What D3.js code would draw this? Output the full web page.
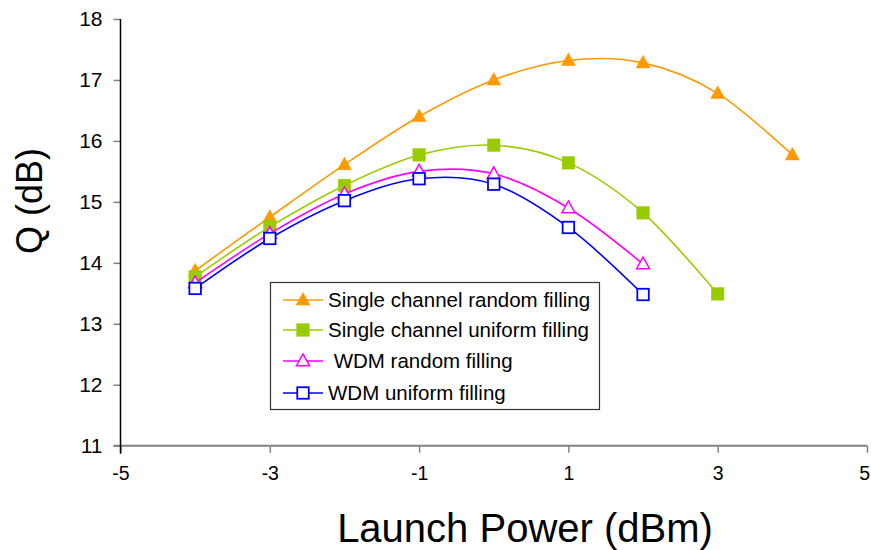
<!DOCTYPE html>
<html>
<head>
<meta charset="utf-8">
<script src="https://cdn.jsdelivr.net/npm/d3@7"></script>
<style>
  body { margin: 0; background: #fff; }
  svg { font-family: "Liberation Sans", Arial, sans-serif; }
</style>
</head>
<body>
<svg id="chart" width="871" height="550"></svg>
<script>
// launch power (dBm) for each series
var powerSingle = [-4, -3, -2, -1, 0, 1, 2, 3, 4];
var powerSingleUniform = [-4, -3, -2, -1, 0, 1, 2, 3];
var powerWdm = [-4, -3, -2, -1, 0, 1, 2];

// Q values (dB)
var qSingleRandom = [13.87, 14.75, 15.61, 16.40, 17.00, 17.32, 17.28, 16.78, 15.77];
var qSingleUniform = [13.77, 14.59, 15.27, 15.77, 15.93, 15.64, 14.82, 13.49];
var qWdmRandom = [13.67, 14.48, 15.13, 15.50, 15.46, 14.90, 13.98];
var qWdmUniform = [13.58, 14.40, 15.02, 15.38, 15.29, 14.58, 13.48];

var xTicks = [-5, -3, -1, 1, 3, 5];
var yTicks = [11, 12, 13, 14, 15, 16, 17, 18];

var series = [
    {name: 'Single channel random filling', x: powerSingle, y: qSingleRandom, color: '#FF9900', shape: 'tri', filled: true},
    {name: 'Single channel uniform filling', x: powerSingleUniform, y: qSingleUniform, color: '#99CC00', shape: 'sq', filled: true},
    {name: ' WDM random filling', x: powerWdm, y: qWdmRandom, color: '#FF00FF', shape: 'tri', filled: false},
    {name: 'WDM uniform filling', x: powerWdm, y: qWdmUniform, color: '#0000FF', shape: 'sq', filled: false},
];

var svg = d3.select('#chart');

var x = d3.scaleLinear().domain([-5, 5]).range([120.5, 867]);
var y = d3.scaleLinear().domain([11, 18]).range([445.7, 19]);

// plain hyphen for negative numbers, no decimals
var fmt = function(d) { return String(d); };

// axes
var yAxis = svg.append('g')
    .attr('transform', 'translate(120.5,0)')
    .call(d3.axisLeft(y).tickValues(yTicks).tickFormat(fmt).tickSize(7).tickPadding(11));
yAxis.select('.domain').remove();
yAxis.selectAll('.tick line').attr('stroke', '#808080').attr('stroke-width', 1.5);
yAxis.selectAll('text').attr('font-size', 21).attr('fill', '#000')
    .attr('font-family', '"Liberation Sans", Arial, sans-serif');

var xAxis = svg.append('g')
    .attr('transform', 'translate(0,445.7)')
    .call(d3.axisBottom(x).tickValues(xTicks).tickFormat(fmt).tickSize(7).tickPadding(13));
xAxis.select('.domain').attr('stroke', '#808080').attr('stroke-width', 2)
    .attr('d', 'M' + (x(-5) - 7) + ',0H' + x(5));
xAxis.selectAll('.tick line').attr('stroke', '#808080').attr('stroke-width', 1.5);
xAxis.selectAll('text').attr('font-size', 19.5).attr('fill', '#000')
    .attr('font-family', '"Liberation Sans", Arial, sans-serif');
// keep the last label inside the window
xAxis.selectAll('text').filter(function(d) { return d == 5; })
    .attr('text-anchor', 'end').attr('dx', 2.5);

// black vertical axis line
svg.append('line')
    .attr('x1', 120.5).attr('x2', 120.5)
    .attr('y1', y(18)).attr('y2', y(11) + 8)
    .attr('stroke', '#000').attr('stroke-width', 1.5);

// titles
svg.append('text')
    .attr('transform', 'translate(42,201) rotate(-90)')
    .attr('text-anchor', 'middle')
    .attr('font-size', 36)
    .text('Q (dB)');

svg.append('text')
    .attr('x', 525).attr('y', 542)
    .attr('text-anchor', 'middle')
    .attr('font-size', 40)
    .text('Launch Power (dBm)');

function drawMarker(g, shape, color, filled, cx, cy) {
    if (shape == 'tri') {
        var s = filled ? 14 : 13;
        var h = s * 0.9;
        g.append('path')
            .attr('d', 'M' + cx + ',' + (cy - h * 0.6) + 'L' + (cx + s / 2) + ',' + (cy + h * 0.4) + 'L' + (cx - s / 2) + ',' + (cy + h * 0.4) + 'Z')
            .attr('fill', filled ? color : '#fff')
            .attr('stroke', color)
            .attr('stroke-width', filled ? 0.5 : 1.5);
    } else {
        var s = filled ? 12.5 : 11.5;
        g.append('rect')
            .attr('x', cx - s / 2).attr('y', cy - s / 2)
            .attr('width', s).attr('height', s)
            .attr('fill', filled ? color : '#fff')
            .attr('stroke', color)
            .attr('stroke-width', filled ? 0.5 : 1.8);
    }
}

var line = d3.line().curve(d3.curveCardinal.tension(0));

series.forEach(function(s) {
    var g = svg.append('g');
    var pts = s.x.map(function(v, i) { return [x(v), y(s.y[i])]; });
    g.append('path')
        .attr('d', line(pts))
        .attr('fill', 'none')
        .attr('stroke', s.color)
        .attr('stroke-width', 1.6);
    pts.forEach(function(p) {
        drawMarker(g, s.shape, s.color, s.filled, p[0], p[1]);
    });
});

// legend
var lg = svg.append('g');
lg.append('rect')
    .attr('x', 270.5).attr('y', 282.5)
    .attr('width', 329).attr('height', 127)
    .attr('fill', '#fff')
    .attr('stroke', '#333').attr('stroke-width', 1.2);

var legendY = [300, 330, 361, 393];
series.forEach(function(s, i) {
    var cy = legendY[i];
    lg.append('line')
        .attr('x1', 283).attr('x2', 323)
        .attr('y1', cy).attr('y2', cy)
        .attr('stroke', s.color).attr('stroke-width', 1.6);
    drawMarker(lg, s.shape, s.color, s.filled, 303, cy);
    lg.append('text')
        .attr('x', 328).attr('y', cy + 7)
        .attr('font-size', 20.5)
        .attr('xml:space', 'preserve')
        .style('white-space', 'pre')
        .text(s.name);
});
</script>
</body>
</html>
